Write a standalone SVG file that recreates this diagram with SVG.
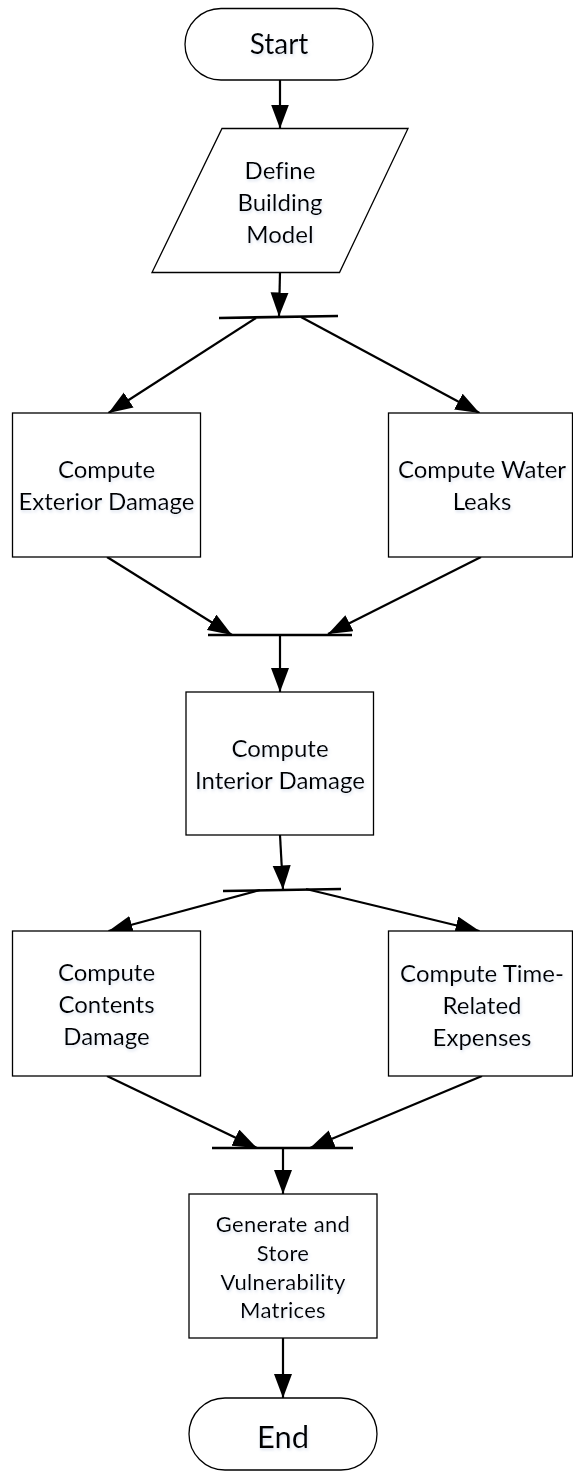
<svg xmlns="http://www.w3.org/2000/svg" width="573" height="1472" viewBox="0 0 573 1472">
  <style>
    .shape { fill: #ffffff; stroke: #000000; stroke-width: 1.3; }
    .bar { stroke: #000000; stroke-width: 2.6; fill: none; }
    .conn { stroke: #000000; stroke-width: 2.2; fill: none; marker-end: url(#arrow); }
    text { font-family: Lato, "Open Sans", "Liberation Sans", sans-serif; fill: #000000; text-anchor: middle; font-variant-ligatures: none; filter: url(#tshadow); }
    .t { font-size: 24px; }
    .ts { font-size: 22px; letter-spacing: 0.3px; }
    .tb { font-size: 28px; }
    .te { font-size: 31px; }
  </style>
  <defs>
    <marker id="arrow" markerUnits="userSpaceOnUse" markerWidth="25" markerHeight="19" refX="24" refY="9" orient="auto">
      <path d="M0,0 L24,9 L0,18 Z" fill="#000000"/>
    </marker>
    <filter id="tshadow" x="-10%" y="-30%" width="120%" height="160%">
      <feGaussianBlur in="SourceAlpha" stdDeviation="1.6"/>
      <feOffset dx="1" dy="2" result="b"/>
      <feFlood flood-color="#b8c6de" flood-opacity="0.5"/>
      <feComposite in2="b" operator="in"/>
      <feMerge><feMergeNode/><feMergeNode in="SourceGraphic"/></feMerge>
    </filter>
  </defs>

  <g id="connectors">
    <line class="conn" x1="280" y1="80" x2="280" y2="128.5"/>
    <line class="conn" x1="280" y1="272.5" x2="279" y2="316.5"/>
    <line class="conn" x1="256" y1="318" x2="108.5" y2="413"/>
    <line class="conn" x1="301" y1="317" x2="479.5" y2="413"/>
    <line class="conn" x1="107" y1="557" x2="232" y2="635"/>
    <line class="conn" x1="481" y1="557" x2="328" y2="634"/>
    <line class="conn" x1="280" y1="635" x2="280" y2="692"/>
    <line class="conn" x1="280" y1="835" x2="283" y2="889.5"/>
    <line class="conn" x1="260" y1="890" x2="108.5" y2="931"/>
    <line class="conn" x1="306" y1="889" x2="479.5" y2="931"/>
    <line class="conn" x1="107" y1="1076" x2="257" y2="1148"/>
    <line class="conn" x1="482" y1="1076" x2="310" y2="1148"/>
    <line class="conn" x1="283" y1="1148" x2="283" y2="1194"/>
    <line class="conn" x1="283" y1="1338" x2="283" y2="1398"/>
  </g>

  <g id="bar-fork1"><line class="bar" x1="219" y1="318" x2="338" y2="316"/></g>
  <g id="bar-join1"><line class="bar" x1="208" y1="635" x2="352" y2="635"/></g>
  <g id="bar-fork2"><line class="bar" x1="223" y1="891" x2="341" y2="889"/></g>
  <g id="bar-join2"><line class="bar" x1="212" y1="1148" x2="353" y2="1148"/></g>

  <g id="start">
    <rect class="shape" x="185" y="8.5" width="188" height="71.5" rx="36" ry="36"/>
    <text class="tb" x="279" y="54">Start</text>
  </g>

  <g id="define-building-model">
    <polygon class="shape" points="222,128.5 408,128.5 339.5,272.5 152,272.5"/>
    <text class="t" x="280" y="178.5">Define</text>
    <text class="t" x="280" y="210.5">Building</text>
    <text class="t" x="280" y="242.5">Model</text>
  </g>

  <g id="exterior-damage">
    <rect class="shape" x="12.5" y="413" width="188" height="144"/>
    <text class="t" x="106.5" y="478">Compute</text>
    <text class="t" x="106.5" y="510">Exterior Damage</text>
  </g>

  <g id="water-leaks">
    <rect class="shape" x="388.5" y="413" width="184" height="144"/>
    <text class="t" x="482" y="478">Compute Water</text>
    <text class="t" x="482" y="510">Leaks</text>
  </g>

  <g id="interior-damage">
    <rect class="shape" x="186" y="692" width="187.5" height="143"/>
    <text class="t" x="280" y="757">Compute</text>
    <text class="t" x="280" y="788.5">Interior Damage</text>
  </g>

  <g id="contents-damage">
    <rect class="shape" x="12.5" y="931" width="188" height="145"/>
    <text class="t" x="106.5" y="981">Compute</text>
    <text class="t" x="106.5" y="1013">Contents</text>
    <text class="t" x="106.5" y="1045">Damage</text>
  </g>

  <g id="time-related-expenses">
    <rect class="shape" x="388.5" y="931" width="184" height="145"/>
    <text class="t" x="482" y="981.5">Compute Time-</text>
    <text class="t" x="482" y="1014">Related</text>
    <text class="t" x="482" y="1045.5">Expenses</text>
  </g>

  <g id="vulnerability-matrices">
    <rect class="shape" x="189" y="1194" width="188" height="144"/>
    <text class="ts" x="283" y="1231.5">Generate and</text>
    <text class="ts" x="283" y="1261">Store</text>
    <text class="ts" x="283" y="1290">Vulnerability</text>
    <text class="ts" x="283" y="1318">Matrices</text>
  </g>

  <g id="end">
    <rect class="shape" x="189" y="1398" width="188" height="72" rx="36" ry="36"/>
    <text class="te" x="283" y="1448">End</text>
  </g>
</svg>
